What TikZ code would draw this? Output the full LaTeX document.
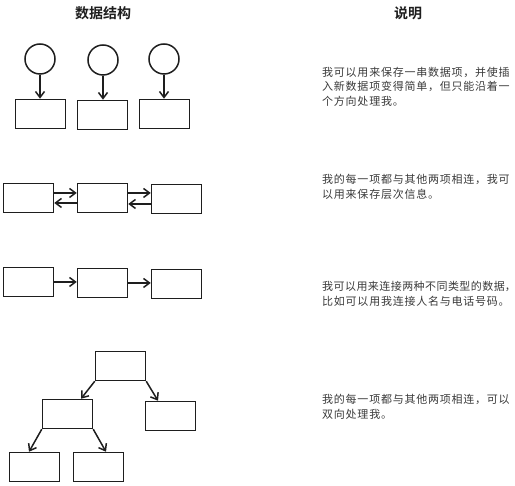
\documentclass[tikz,border=0pt]{standalone}
\usepackage{fontspec}
\setmainfont{Noto Sans CJK SC}
\newfontfamily\cjktitle{Noto Sans CJK SC Bold}
\newfontfamily\cjkbody[LetterSpace=7]{Noto Sans CJK SC}
\newfontfamily\cjkbodytight[LetterSpace=4]{Noto Sans CJK SC}
\usetikzlibrary{arrows.meta}
\definecolor{ink}{HTML}{1E1E1E}
\definecolor{txt}{HTML}{3A3A3A}
\tikzset{
  box/.style={draw=ink, line width=1.5pt, minimum width=50pt, minimum height=29pt, inner sep=0pt},
  ring/.style={draw=ink, line width=1.5pt, circle, minimum size=30pt, inner sep=0pt},
  arr/.style={draw=ink, line width=1.5pt, -{Straight Barb[length=6pt,width=9pt,line width=1.5pt]}},
  head/.style={font=\cjktitle\fontsize{14}{16}\selectfont, text=ink, inner sep=0pt},
  desc/.style={font=\cjkbody\fontsize{11}{13}\selectfont, text=txt, anchor=west, inner sep=0pt},
  desctight/.style={desc, font=\cjkbodytight\fontsize{11}{13}\selectfont},
}
\begin{document}
\begin{tikzpicture}[x=1pt,y=-1pt]
\useasboundingbox (0,0) rectangle (515,486);
% headings
\node[head] (h1) at (103,13) {数据结构};
\node[head] (h2) at (408,13) {说明};
% row 1
\node[ring] (c1) at (40,59) {};
\node[ring] (c2) at (103,60) {};
\node[ring] (c3) at (164,59) {};
\node[box] (r1) at (40.5,114) {};
\node[box] (r2) at (102.5,115) {};
\node[box] (r3) at (164.5,114) {};
\draw[arr] (c1.south) -- (c1.south |- r1.north);
\draw[arr] (c2.south) -- (c2.south |- r2.north);
\draw[arr] (c3.south) -- (c3.south |- r3.north);
% row 2
\node[box] (d1) at (28.5,198) {};
\node[box] (d2) at (102.5,198) {};
\node[box] (d3) at (176.5,199) {};
\draw[arr] ([yshift=5pt]d1.east) -- ([yshift=5pt]d1.east -| d2.west);
\draw[arr] ([yshift=-5pt]d2.west) -- ([yshift=-5pt]d2.west -| d1.east);
\draw[arr] ([yshift=5pt]d2.east) -- ([yshift=5pt]d2.east -| d3.west);
\draw[arr] ([yshift=-5pt]d3.west) -- ([yshift=-5pt]d3.west -| d2.east);
% row 3
\node[box] (s1) at (28.5,282) {};
\node[box] (s2) at (102.5,283) {};
\node[box] (s3) at (176.5,284) {};
\draw[arr] (s1.east) -- (s1.east -| s2.west);
\draw[arr] (s2.east) -- (s2.east -| s3.west);
% row 4 tree
\node[box] (t0) at (120.5,366) {};
\node[box] (tl) at (67.5,414) {};
\node[box] (tr) at (170.5,416) {};
\node[box] (tll) at (34.5,467) {};
\node[box] (tlr) at (98.5,467) {};
\draw[arr] (t0.south west) -- ([xshift=13.5pt]tl.north);
\draw[arr] (t0.south east) -- ([xshift=-12.5pt]tr.north);
\draw[arr] (tl.south west) -- ([xshift=-5.5pt]tll.north);
\draw[arr] (tl.south east) -- ([xshift=7.5pt]tlr.north);
% descriptions
\node[desc] (a1) at (322,72) {我可以用来保存一串数据项，并使插};
\node[desc] (a2) at (322,86.5) {入新数据项变得简单，但只能沿着一};
\node[desc] (a3) at (322,101) {个方向处理我。};
\node[desc] (b1) at (322,179) {我的每一项都与其他两项相连，我可};
\node[desc] (b2) at (322,194) {以用来保存层次信息。};
\node[desctight] (e1) at (322,286) {我可以用来连接两种不同类型的数据\makebox[3pt][l]{，}};
\node[desc] (e2) at (322,301.5) {比如可以用我连接人名与电话号码。};
\node[desc] (f1) at (322,399) {我的每一项都与其他两项相连，可以};
\node[desc] (f2) at (322,414) {双向处理我。};
\end{tikzpicture}
\end{document}
